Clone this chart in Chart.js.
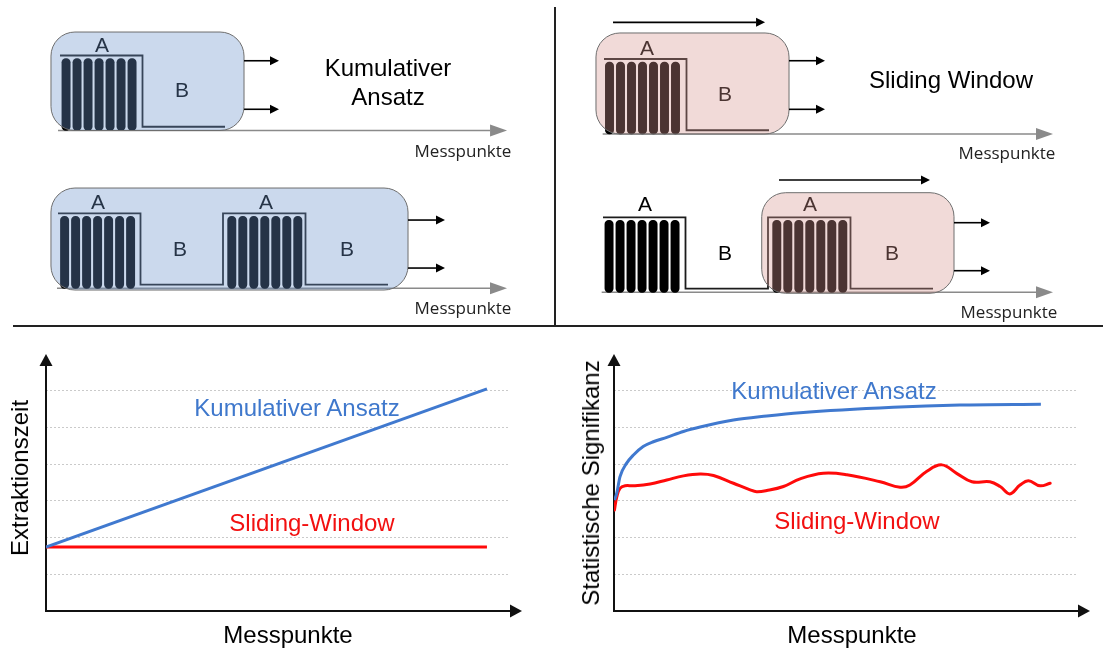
<!DOCTYPE html>
<html><head><meta charset="utf-8">
<script src="https://cdn.jsdelivr.net/npm/chart.js@4.4.1/dist/chart.umd.min.js"></script>
<style>
html,body{margin:0;padding:0;background:#fff;}
#stage{position:relative;width:1103px;height:650px;overflow:hidden;background:#fff;font-family:'Liberation Sans',Arial,sans-serif;}
canvas{position:absolute;}
.t{position:absolute;transform:translate(-50%,-50%);white-space:nowrap;line-height:1;color:#000;}
.ab{font-size:21px;}
.navy{color:#263447;}
.brown{color:#4b3432;}
.mp{font-family:'Open Sans',sans-serif;font-size:17px;color:#222;}
.big{font-size:24px;}
.rot{transform:translate(-50%,-50%) rotate(-90deg);}
.blue{color:#3f78cc;}
.red{color:#f21010;}
.line{position:absolute;background:#222;}
</style></head>
<body><div id="stage">
<div class="line" style="left:13px;top:325px;width:1090px;height:2px;"></div>
<div class="line" style="left:554px;top:7px;width:2px;height:319px;"></div>

<div class="t ab navy" style="left:102px;top:44px;">A</div>
<div class="t ab navy" style="left:182px;top:89px;">B</div>
<div class="t big" style="left:388px;top:68px;">Kumulativer</div>
<div class="t big" style="left:388px;top:97px;">Ansatz</div>
<div class="t mp" style="left:463px;top:150px;">Messpunkte</div>

<div class="t ab navy" style="left:98px;top:201px;">A</div>
<div class="t ab navy" style="left:266px;top:201px;">A</div>
<div class="t ab navy" style="left:180px;top:248px;">B</div>
<div class="t ab navy" style="left:347px;top:248px;">B</div>
<div class="t mp" style="left:463px;top:307px;">Messpunkte</div>

<div class="t ab brown" style="left:647px;top:47px;">A</div>
<div class="t ab brown" style="left:725px;top:93px;">B</div>
<div class="t big" style="left:951px;top:80px;">Sliding Window</div>
<div class="t mp" style="left:1007px;top:152px;">Messpunkte</div>

<div class="t ab" style="left:645px;top:203px;">A</div>
<div class="t ab" style="left:725px;top:252px;">B</div>
<div class="t ab brown" style="left:810px;top:203px;">A</div>
<div class="t ab brown" style="left:892px;top:252px;">B</div>
<div class="t mp" style="left:1009px;top:311px;">Messpunkte</div>

<div class="t big" style="left:288px;top:635px;">Messpunkte</div>
<div class="t big rot" style="left:20px;top:478px;">Extraktionszeit</div>
<div class="t big blue" style="left:297px;top:408px;">Kumulativer Ansatz</div>
<div class="t big red" style="left:312px;top:523px;">Sliding-Window</div>

<div class="t big" style="left:852px;top:635px;">Messpunkte</div>
<div class="t big rot" style="left:591px;top:483px;">Statistische Signifikanz</div>
<div class="t big blue" style="left:834px;top:391px;">Kumulativer Ansatz</div>
<div class="t big red" style="left:857px;top:521px;">Sliding-Window</div>
</div>
<script>
// ---------- DATA ----------
// Top schematic: measurement (rib) positions and step signals (units: Messpunkte)
const ribsKumulativ1 = [0.55, 1.55, 2.55, 3.55, 4.55, 5.55, 6.55];
const ribsKumulativ2 = [0.6, 1.6, 2.6, 3.6, 4.6, 5.6, 6.6, 15.8, 16.8, 17.8, 18.8, 19.8, 20.8, 21.8];
const ribsSliding1 = [0.5, 1.5, 2.5, 3.5, 4.5, 5.5, 6.5];
const ribsSliding2 = [0.55, 1.55, 2.55, 3.55, 4.55, 5.55, 6.55, 15.8, 16.8, 17.8, 18.8, 19.8, 20.8, 21.8];
const ribHeight = 0.96;
const signalOneCycleX = [0, 7.5, 7.5, 15];
const signalOneCycleY = [1, 1, 0.05, 0.05];
const signalTwoCycleX = [0, 7.5, 7.5, 15, 15, 22.5, 22.5, 30];
const signalTwoCycleY = [1, 1, 0.05, 0.05, 1, 1, 0.05, 0.05];

// Bottom left: Extraktionszeit
const extraktionX = [0, 20];
const extraktionKumulativ = [1.74, 6.05];
const extraktionSliding = [1.74, 1.74];

// Bottom right: Statistische Signifikanz
const signifKumX = [0.1, 0.6, 1.3, 2.7, 4.2, 6.3, 8.5, 11.4, 15.0, 18.6, 25.8, 33.0, 40.2, 60.3, 74.7, 92.2];
const signifKumY = [3.02, 3.21, 3.66, 4.02, 4.25, 4.48, 4.61, 4.73, 4.89, 5.01, 5.20, 5.31, 5.40, 5.55, 5.61, 5.63];
const signifSwX = [0.1, 0.6, 1.3, 2.4, 4.2, 7.8, 11.4, 15.0, 18.6, 21.5, 25.8, 29.4, 30.8, 33.0, 36.6, 40.2, 45.2, 50.3, 57.5, 61.8, 63.9, 67.5, 70.8, 74.0, 77.3, 81.2, 83.4, 85.5, 87.7, 89.5, 92.0, 94.2];
const signifSwY = [2.75, 3.11, 3.34, 3.41, 3.41, 3.46, 3.57, 3.68, 3.73, 3.69, 3.48, 3.30, 3.25, 3.28, 3.39, 3.60, 3.75, 3.71, 3.52, 3.37, 3.43, 3.80, 3.98, 3.75, 3.52, 3.52, 3.39, 3.19, 3.43, 3.55, 3.41, 3.48];

const gridValues = [1, 2, 3, 4, 5, 6];

// ---------- STYLE / LAYOUT ----------
const BOX_BLUE = 'rgba(106,146,203,0.35)';
const BOX_PINK = 'rgba(214,149,143,0.35)';
const LINE_BLUE = '#4079cf';
const LINE_RED = '#ff0a0a';
const stage = document.getElementById('stage');

function addCanvas(r) {
  const c = document.createElement('canvas');
  c.width = r.w; c.height = r.h;
  c.style.left = r.left + 'px'; c.style.top = r.top + 'px';
  c.style.width = r.w + 'px'; c.style.height = r.h + 'px';
  stage.insertBefore(c, stage.children[2]);
  return c;
}

function arrow(ctx, x0, y0, x1, y1, color, width, headLen, headHalf) {
  const ang = Math.atan2(y1 - y0, x1 - x0);
  const bx = x1 - Math.cos(ang) * headLen, by = y1 - Math.sin(ang) * headLen;
  ctx.save();
  ctx.strokeStyle = color; ctx.fillStyle = color; ctx.lineWidth = width;
  ctx.beginPath(); ctx.moveTo(x0, y0); ctx.lineTo(bx, by); ctx.stroke();
  ctx.beginPath();
  ctx.moveTo(x1, y1);
  ctx.lineTo(bx + Math.sin(ang) * headHalf, by - Math.cos(ang) * headHalf);
  ctx.lineTo(bx - Math.sin(ang) * headHalf, by + Math.cos(ang) * headHalf);
  ctx.closePath(); ctx.fill();
  ctx.restore();
}

function roundRectPath(ctx, x, y, w, h, r) {
  ctx.beginPath();
  ctx.moveTo(x + r, y);
  ctx.lineTo(x + w - r, y); ctx.arcTo(x + w, y, x + w, y + r, r);
  ctx.lineTo(x + w, y + h - r); ctx.arcTo(x + w, y + h, x + w - r, y + h, r);
  ctx.lineTo(x + r, y + h); ctx.arcTo(x, y + h, x, y + h - r, r);
  ctx.lineTo(x, y + r); ctx.arcTo(x, y, x + r, y, r);
  ctx.closePath();
}

const schematicPlugin = {
  id: 'schematic',
  beforeDatasetsDraw(chart, args, o) {
    const xs = chart.scales.x, ys = chart.scales.y, ctx = chart.ctx;
    const y = ys.getPixelForValue(0);
    arrow(ctx, xs.getPixelForValue(o.axis.x0), y, xs.getPixelForValue(o.axis.x1), y, '#8a8a8a', 1.6, 17, 6);
  },
  afterDatasetsDraw(chart, args, o) {
    const xs = chart.scales.x, ys = chart.scales.y, ctx = chart.ctx;
    const b = o.box;
    const x0 = xs.getPixelForValue(b.x0), x1 = xs.getPixelForValue(b.x1);
    const yt = ys.getPixelForValue(b.y1), yb = ys.getPixelForValue(b.y0);
    ctx.save();
    roundRectPath(ctx, x0, yt, x1 - x0, yb - yt, 24);
    ctx.fillStyle = b.fill; ctx.fill();
    ctx.strokeStyle = '#6e6e6e'; ctx.lineWidth = 1; ctx.stroke();
    ctx.restore();
    (o.arrows || []).forEach(a => {
      const py = ys.getPixelForValue(a.y);
      arrow(ctx, xs.getPixelForValue(a.x0), py, xs.getPixelForValue(a.x1), py, '#000', 1.6, 9, 4.5);
    });
  }
};

function makeRow(cfg) {
  const r = cfg.rect, cv = addCanvas(r);
  const pxX = 11, pxY = 75;
  const xmin = -(cfg.origin[0] - r.left) / pxX, xmax = (r.left + r.w - cfg.origin[0]) / pxX;
  const ymax = (cfg.origin[1] - r.top) / pxY, ymin = -(r.top + r.h - cfg.origin[1]) / pxY;
  new Chart(cv, {
    type: 'line',
    data: {
      datasets: [
        { type: 'line', data: cfg.sigX.map((x, i) => ({ x, y: cfg.sigY[i] })), borderColor: '#1c1c1c', borderWidth: 1.8, pointRadius: 0, tension: 0 },
        { type: 'bar', data: cfg.ribs.map(x => ({ x, y: ribHeight })), backgroundColor: '#000', barThickness: 8.3, borderRadius: 4.2, borderSkipped: false, borderWidth: 0 }
      ]
    },
    options: {
      responsive: false, animation: false, events: [],
      layout: { padding: 0, autoPadding: false },
      scales: {
        x: { type: 'linear', min: xmin, max: xmax, display: false, offset: false },
        y: { type: 'linear', min: ymin, max: ymax, display: false }
      },
      plugins: { legend: { display: false }, tooltip: { enabled: false }, schematic: cfg.decor }
    },
    plugins: [schematicPlugin]
  });
}

const topRows = [
  { rect: { left: 0, top: 0, w: 553, h: 165 }, origin: [60, 130.5], ribs: ribsKumulativ1, sigX: signalOneCycleX, sigY: signalOneCycleY,
    decor: { axis: { x0: -0.18, x1: 40.64 }, box: { x0: -0.82, x1: 16.73, y0: 0, y1: 1.313, fill: BOX_BLUE },
      arrows: [{ x0: 16.73, x1: 19.91, y: 0.93 }, { x0: 16.73, x1: 19.91, y: 0.283 }] } },
  { rect: { left: 0, top: 165, w: 553, h: 160 }, origin: [58, 288.3], ribs: ribsKumulativ2, sigX: signalTwoCycleX, sigY: signalTwoCycleY,
    decor: { axis: { x0: -0.09, x1: 40.82 }, box: { x0: -0.64, x1: 31.82, y0: -0.023, y1: 1.337, fill: BOX_BLUE },
      arrows: [{ x0: 31.82, x1: 35.18, y: 0.91 }, { x0: 31.82, x1: 35.18, y: 0.27 }] } },
  { rect: { left: 557, top: 0, w: 546, h: 165 }, origin: [604, 134], ribs: ribsSliding1, sigX: signalOneCycleX, sigY: signalOneCycleY,
    decor: { axis: { x0: -0.12, x1: 40.82 }, box: { x0: -0.73, x1: 16.82, y0: 0, y1: 1.347, fill: BOX_PINK },
      arrows: [{ x0: 0.82, x1: 14.64, y: 1.489 }, { x0: 16.82, x1: 20.09, y: 0.977 }, { x0: 16.82, x1: 20.09, y: 0.329 }] } },
  { rect: { left: 557, top: 165, w: 546, h: 160 }, origin: [603, 292.3], ribs: ribsSliding2, sigX: signalTwoCycleX, sigY: signalTwoCycleY,
    decor: { axis: { x0: -0.12, x1: 40.91 }, box: { x0: 14.43, x1: 31.91, y0: -0.013, y1: 1.328, fill: BOX_PINK },
      arrows: [{ x0: 16, x1: 29.73, y: 1.497 }, { x0: 31.91, x1: 35.18, y: 0.928 }, { x0: 31.91, x1: 35.18, y: 0.288 }] } }
];
topRows.forEach(makeRow);

// ---------- bottom charts ----------
const axesPlugin = {
  id: 'axesArrows',
  beforeDatasetsDraw(chart) {
    const a = chart.chartArea, ctx = chart.ctx;
    arrow(ctx, a.left, a.bottom + 1, a.left, a.top, '#111', 2, 12, 6.5);
    arrow(ctx, a.left - 1, a.bottom, a.right + 13, a.bottom, '#111', 2, 12, 6.5);
  }
};

function makeBottom(rect, pad, xmax, datasets) {
  const cv = addCanvas(rect);
  new Chart(cv, {
    type: 'line',
    data: { datasets },
    options: {
      responsive: false, animation: false, events: [],
      layout: { padding: pad, autoPadding: false },
      scales: {
        x: { type: 'linear', min: 0, max: xmax, display: false },
        y: { type: 'linear', min: 0, max: 7, display: true,
          ticks: { display: false, stepSize: 1 },
          border: { display: false, dash: [2, 2] },
          grid: { drawTicks: false, lineWidth: 1,
            color: c => gridValues.includes(c.tick.value) ? '#cacaca' : 'rgba(0,0,0,0)' } }
      },
      plugins: { legend: { display: false }, tooltip: { enabled: false } }
    },
    plugins: [axesPlugin]
  });
}

makeBottom({ left: 0, top: 327, w: 553, h: 323 }, { left: 46, right: 44, top: 27, bottom: 39 }, 21, [
  { data: extraktionX.map((x, i) => ({ x, y: extraktionKumulativ[i] })), borderColor: LINE_BLUE, borderWidth: 3, pointRadius: 0 },
  { data: extraktionX.map((x, i) => ({ x, y: extraktionSliding[i] })), borderColor: LINE_RED, borderWidth: 3, pointRadius: 0 }
]);

makeBottom({ left: 557, top: 327, w: 546, h: 323 }, { left: 57, right: 26, top: 27, bottom: 39 }, 100, [
  { data: signifKumX.map((x, i) => ({ x, y: signifKumY[i] })), borderColor: LINE_BLUE, borderWidth: 3, pointRadius: 0, cubicInterpolationMode: 'monotone' },
  { data: signifSwX.map((x, i) => ({ x, y: signifSwY[i] })), borderColor: LINE_RED, borderWidth: 3, pointRadius: 0, tension: 0.4, borderJoinStyle: 'round', borderCapStyle: 'round' }
]);
</script>
</body></html>
